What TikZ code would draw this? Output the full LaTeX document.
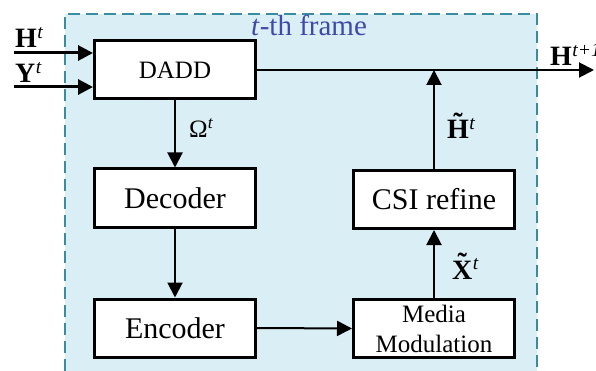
\documentclass[tikz,border=0pt]{standalone}
\usepackage{fontspec}
\setmainfont{Liberation Serif}
\usetikzlibrary{arrows.meta}
\definecolor{framefill}{RGB}{218,238,245}
\definecolor{frameline}{RGB}{58,140,160}
\definecolor{titleblue}{RGB}{62,74,170}
% bold symbol with an italic superscript
\newcommand\bsym[2]{\textbf{#1}\textsuperscript{\kern0.5pt\textit{#2}}}
% bold capital with a tilde set just above it
\newcommand\tildecap[1]{\ooalign{\textbf{#1}\cr
  \hidewidth\raisebox{0.24em}{\textbf{\char"02DC}}\hidewidth\cr}}
\begin{document}
\begin{tikzpicture}[x=1pt,y=-1pt,
  block/.style={draw=black, line width=3pt, fill=white, minimum width=161pt,
    minimum height=58pt, inner sep=0pt, align=center,
    font=\fontsize{30}{32}\selectfont},
  conn/.style={line width=2pt, -{Triangle[length=15pt,width=15pt]}},
  inconn/.style={conn, line width=3pt},
  lbl/.style={inner sep=0pt, anchor=base west, font=\fontsize{28}{30}\selectfont}]
\useasboundingbox (0,0) rectangle (596,371);

% the frame region
\fill[framefill] (65,14) rectangle (537,371);
\draw[frameline, line width=2pt, dash pattern=on 12pt off 6pt]
  (65,371) -- (65,14) -- (537,14) -- (537,371);
\node[inner sep=0pt, anchor=base, text=titleblue, font=\fontsize{29}{30}\selectfont]
  (title) at (309,36) {\textit{t}-th frame};

% processing blocks
\node[block, font=\fontsize{25}{30}\selectfont] (dadd) at (175,70) {DADD};
\node[block] (dec) at (175,198) {Decoder};
\node[block] (enc) at (175,328) {Encoder};
\node[block] (csi) at (434,199.5) {CSI refine};
\node[block, font=\fontsize{25}{30}\selectfont] (mm) at (434,328.5) {Media\\Modulation};

% inputs and output
\coordinate (hin) at (14,53);
\coordinate (yin) at (14,87);
\coordinate (hout) at (594,70);
\draw[inconn] (hin) -- (hin -| dadd.west);
\draw[inconn] (yin) -- (yin -| dadd.west);
\draw[conn] (dadd.east) -- (hout);

% internal flow
\draw[conn] (dadd.south) -- (dec.north);
\draw[conn] (dec.south) -- (enc.north);
\draw[conn] (enc.east) -- (mm.west);
\draw[conn] (mm.north) -- (csi.south);
\coordinate (join) at (csi.north |- dadd.east);
\draw[conn] (csi.north) -- (join);

% signal labels
\node[lbl] (lh) at (15,48) {\bsym{H}{t}};
\node[lbl] (ly) at (15,83) {\bsym{Y}{t}};
\node[lbl] (lhn) at (550,66) {\bsym{H}{t+1}};
\node[lbl, font=\fontsize{25}{30}\selectfont] (lom) at (189,138) {Ω\textsuperscript{\textit{t}}};
\node[lbl] (lht) at (447,139) {\bsym{\tildecap{H}}{t}};
\node[lbl] (lxt) at (452,279) {\bsym{\tildecap{X}}{t}};
\end{tikzpicture}
\end{document}
